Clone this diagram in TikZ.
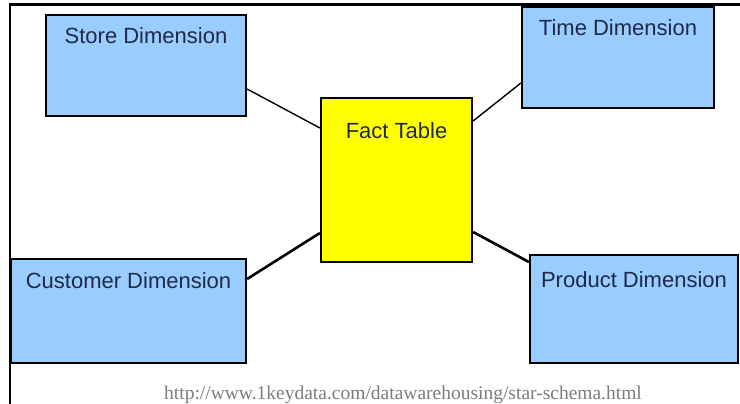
\documentclass[tikz,border=0pt]{standalone}
\usepackage{fontspec}
\setmainfont{Liberation Sans}
\newfontfamily\urlserif{Liberation Serif}
\definecolor{dimblue}{RGB}{153,204,255}
\definecolor{factyellow}{RGB}{255,255,0}
\definecolor{dimtext}{RGB}{32,42,72}
\definecolor{urlgray}{RGB}{125,125,125}

\begin{document}
\begin{tikzpicture}[
      x=1pt,y=-1pt,
      box/.style={draw=black,line width=2.2pt,inner sep=0pt,fill=dimblue},
      title/.style={anchor=north,inner sep=0pt,text=dimtext,font=\fontsize{22}{26}\selectfont},
      thin link/.style={line width=1.4pt},
      thick link/.style={line width=2.6pt}
      ]

      \useasboundingbox (0,0) rectangle (740,404);
      \draw[line width=2.6pt] (10,405) -- (10,4.5) -- (741,4.5);

      \node[box,fill=factyellow,minimum width=151pt,minimum height=164pt,
            label={[title,yshift=-25pt]north:Fact Table}]        (fact)     at (396.5,180) {};
      \node[box,minimum width=200pt,minimum height=101pt,
            label={[title,yshift=-13pt]north:Store Dimension}]   (store)    at (146,65.5)  {};
      \node[box,minimum width=192pt,minimum height=101pt,
            label={[title,yshift=-13pt]north:Time Dimension}]    (time)     at (618,57.5)  {};
      \node[box,minimum width=235pt,minimum height=104pt,
            label={[title,yshift=-14pt]north:Customer Dimension}] (customer) at (128.5,311) {};
      \node[box,minimum width=208pt,minimum height=108pt,
            label={[title,yshift=-17pt]north:Product Dimension}] (product)  at (634,309)   {};

      \draw[thin link]  ([yshift=-23.5pt]store.east)  -- ([yshift=52pt]fact.west);
      \draw[thin link]  ([yshift=-25.5pt]time.west)   -- ([yshift=59pt]fact.east);
      \draw[thick link] ([yshift=32pt]customer.east)  -- ([yshift=-53pt]fact.west);
      \draw[thick link] ([yshift=47pt]product.west)   -- ([yshift=-52pt]fact.east);

      \node[anchor=base,inner sep=0pt,text=urlgray,font=\urlserif\fontsize{19.5}{23}\selectfont]
            (source) at (403,399) {http://www.1keydata.com/datawarehousing/star-schema.html};
    \end{tikzpicture}
\end{document}
